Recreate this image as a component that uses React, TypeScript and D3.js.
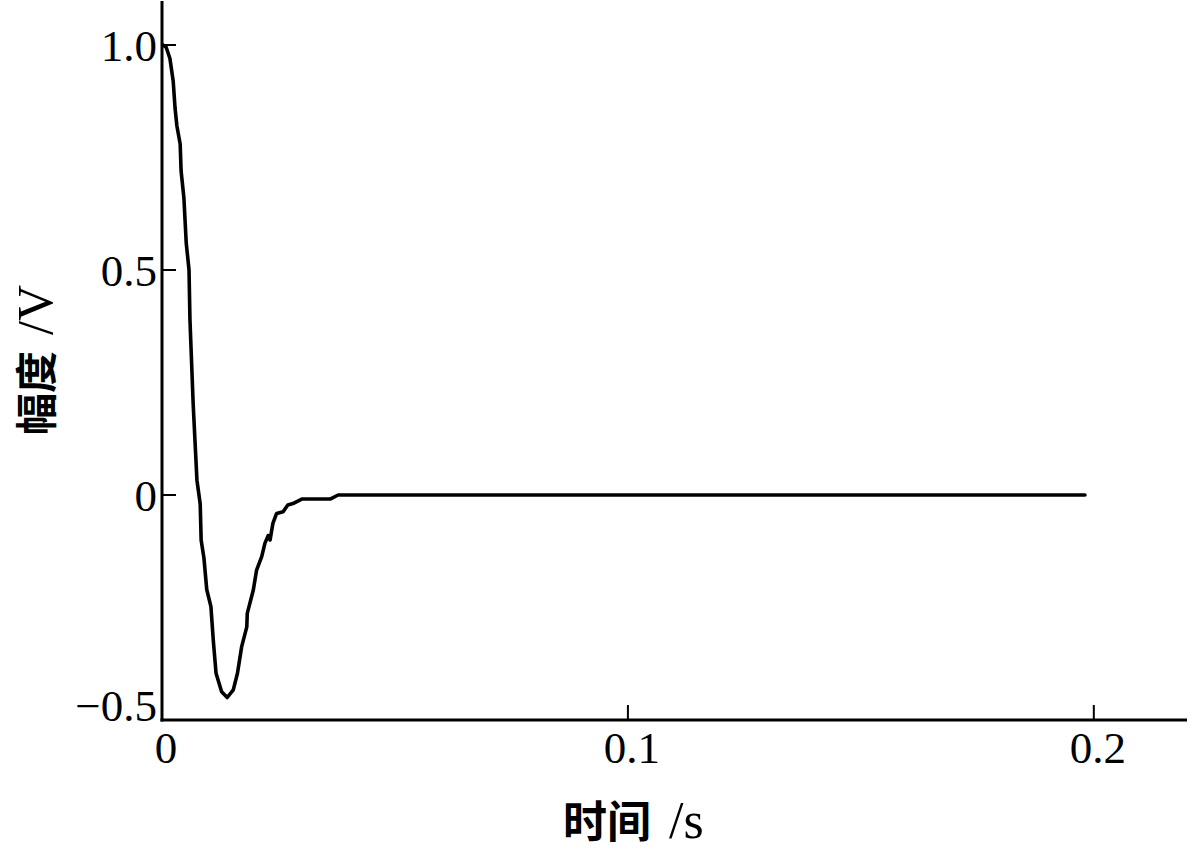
import React from "react";
import * as d3 from "d3";

const timeS = [0.0002, 0.0009, 0.0017, 0.0024, 0.0028, 0.0032, 0.0039, 0.0041, 0.0047, 0.0052, 0.0058, 0.0060, 0.0067, 0.0075, 0.0082, 0.0084, 0.0090, 0.0096, 0.0105, 0.0110, 0.0116, 0.0128, 0.0140, 0.0153, 0.0162, 0.0171, 0.0182, 0.0183, 0.0196, 0.0203, 0.0214, 0.0221, 0.0228, 0.0232, 0.0238, 0.0246, 0.0260, 0.0270, 0.0281, 0.0300, 0.0361, 0.0378, 0.1981];
const amplitude = [1.0, 0.995, 0.97, 0.92, 0.86, 0.82, 0.78, 0.72, 0.66, 0.56, 0.50, 0.39, 0.20, 0.033, -0.02, -0.10, -0.14, -0.21, -0.248, -0.322, -0.396, -0.437, -0.45, -0.433, -0.396, -0.337, -0.293, -0.263, -0.211, -0.167, -0.137, -0.107, -0.09, -0.10, -0.063, -0.041, -0.037, -0.022, -0.019, -0.009, -0.009, 0.0, 0.0];

const xTicks = [0, 0.1, 0.2];
const xTickLabels = ["0", "0.1", "0.2"];
const yTicks = [-0.5, 0, 0.5, 1.0];
const yTickLabels = ["\u22120.5", "0", "0.5", "1.0"];

const xTitleCJK = "时间";
const xTitleUnit = "/s";
const yTitleCJK = "幅度";
const yTitleUnit = "/V";

export default function App() {
  const W = 1200, H = 860;
  const x = d3.scaleLinear().domain([0, 0.22]).range([162, 1187]);
  const y = d3.scaleLinear().domain([-0.5, 1.1]).range([720, 0]);
  const pts = timeS.map((t, i) => [t, amplitude[i]] as [number, number]);
  const line = d3.line<[number, number]>().x(d => x(d[0])).y(d => y(d[1]));
  const serif = "'Liberation Serif', 'Times New Roman', serif";
  const cjk = "'Noto Sans CJK SC', sans-serif";
  const x0 = x(0), yBase = y(-0.5);
  return (
    <svg width={W} height={H} style={{ position: "absolute", left: 0, top: 0, background: "#fff" }}>
      <rect x={0} y={0} width={W} height={H} fill="#fff" />
      {/* axes */}
      <line x1={x0} x2={x0} y1={1} y2={yBase + 1.5} stroke="#000" strokeWidth={3} />
      <line x1={x0 - 1.5} x2={x.range()[1]} y1={yBase} y2={yBase} stroke="#000" strokeWidth={3} />
      {/* y ticks */}
      {yTicks.map((v, i) => (
        <g key={"y" + i}>
          {v > -0.5 && <line x1={x0} x2={x0 + 14} y1={y(v)} y2={y(v)} stroke="#000" strokeWidth={2} />}
          <text x={x0 - 5} y={Math.min(y(v), 705) + 16} textAnchor="end" fontFamily={serif} fontSize={45} fill="#000">{yTickLabels[i]}</text>
        </g>
      ))}
      {/* x ticks */}
      {xTicks.map((v, i) => (
        <g key={"x" + i}>
          {v > 0 && <line x1={x(v)} x2={x(v)} y1={yBase} y2={yBase - 15} stroke="#000" strokeWidth={2} />}
          <text x={x(v) + 4} y={763} textAnchor="middle" fontFamily={serif} fontSize={45} fill="#000">{xTickLabels[i]}</text>
        </g>
      ))}
      {/* series */}
      <path d={line(pts) || ""} fill="none" stroke="#000" strokeWidth={3.6} strokeLinejoin="round" strokeLinecap="round" />
      {/* titles */}
      <text x={563} y={838} fontSize={44} fill="#000">
        <tspan fontFamily={cjk} fontWeight={600}>{xTitleCJK}</tspan>
        <tspan fontFamily={serif} fontSize={52} dx={18}>{xTitleUnit}</tspan>
      </text>
      <text transform="translate(52,360) rotate(-90)" textAnchor="middle" fontSize={42} fill="#000">
        <tspan fontFamily={cjk} fontWeight={600}>{yTitleCJK}</tspan>
        <tspan fontFamily={serif} fontSize={50} dx={16}>{yTitleUnit}</tspan>
      </text>
    </svg>
  );
}
